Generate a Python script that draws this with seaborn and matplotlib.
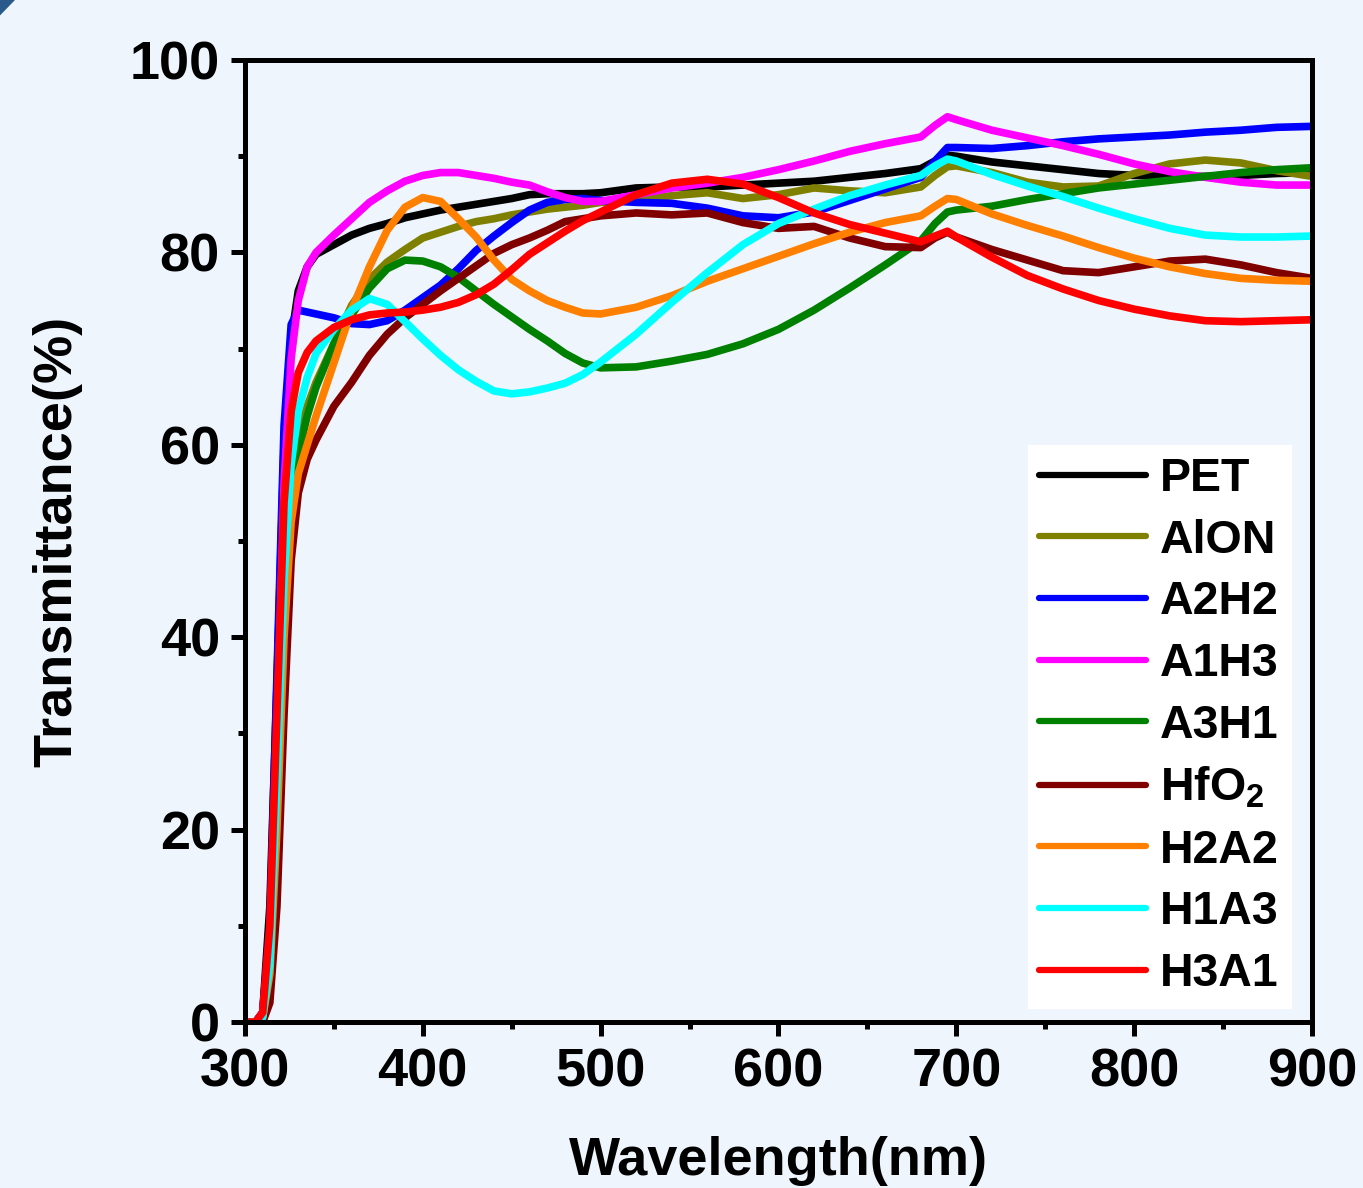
import numpy as np
import pandas as pd
import seaborn as sns
import matplotlib.pyplot as plt
from matplotlib.ticker import MultipleLocator
from matplotlib.patches import Polygon

# wavelength grid (nm)
wavelength = [300, 306, 310, 314, 318, 322, 326, 330, 335, 340, 350, 360, 370, 380, 390,
              400, 410, 420, 430, 440, 450, 460, 470, 480, 490, 500, 520, 540, 560, 580,
              600, 620, 640, 660, 680, 688, 695, 700, 720, 740, 760, 780, 800, 820, 840,
              860, 880, 900]

# transmittance (%) per sample
pet = [0, 0, 1, 12, 35, 60, 71, 76, 78.5, 79.8, 80.8, 81.8, 82.5, 83, 83.6,
       84, 84.4, 84.7, 85, 85.3, 85.6, 86, 86.1, 86.1, 86.1, 86.2, 86.7, 86.8, 86.8, 87,
       87.2, 87.4, 87.8, 88.2, 88.7, 89.5, 90.1, 90, 89.4, 89, 88.6, 88.2, 88, 87.9, 87.9,
       88, 88.2, 88.3]
alon = [0, 0, 0.5, 6, 22, 42, 55, 61, 64, 66.5, 70.5, 74.5, 77.2, 79, 80.3,
        81.5, 82.1, 82.7, 83.2, 83.5, 83.9, 84.2, 84.5, 84.7, 84.9, 85.2, 85.4, 85.9, 86.2, 85.6,
        86, 86.7, 86.4, 86.2, 86.8, 88, 88.9, 89, 88.3, 87.3, 86.8, 86.9, 88.2, 89.2, 89.6,
        89.3, 88.5, 87.9]
a2h2 = [0, 0, 1, 10, 36, 62, 72.5, 74, 73.8, 73.6, 73.2, 72.6, 72.5, 72.9, 74,
        75.3, 76.6, 78.3, 80.2, 81.7, 83.1, 84.4, 85.2, 85.5, 85.6, 85.4, 85.2, 85.1, 84.6, 83.8,
        83.6, 84.2, 85.4, 86.6, 87.8, 89.5, 90.9, 90.9, 90.8, 91.1, 91.5, 91.8, 92, 92.2, 92.5,
        92.7, 93, 93.1]
a1h3 = [0, 0, 1, 8, 30, 56, 69, 75, 78.5, 80, 81.8, 83.5, 85.2, 86.4, 87.4,
        88, 88.3, 88.3, 88, 87.7, 87.3, 87, 86.3, 85.7, 85.3, 85.3, 86, 86.7, 87.2, 87.8,
        88.6, 89.5, 90.5, 91.3, 92, 93.2, 94.1, 93.8, 92.7, 91.9, 91.1, 90.2, 89.2, 88.4, 87.8,
        87.3, 87, 87]
a3h1 = [0, 0, 0.5, 5, 20, 40, 53, 59, 63, 66, 70.5, 73.5, 76.3, 78.3, 79.2,
        79.1, 78.5, 77.4, 76, 74.6, 73.3, 72, 70.8, 69.5, 68.5, 68, 68.1, 68.7, 69.4, 70.5,
        72, 74, 76.3, 78.7, 81.2, 83, 84.2, 84.4, 84.8, 85.5, 86.1, 86.7, 87.1, 87.5, 87.9,
        88.3, 88.6, 88.8]
hfo2 = [0, 0, 0, 2, 12, 32, 48, 55, 58.5, 60.5, 64, 66.5, 69.3, 71.5, 73.2,
        74.6, 76, 77.3, 78.6, 79.9, 80.8, 81.5, 82.3, 83.2, 83.5, 83.8, 84.1, 83.9, 84.1, 83.1,
        82.5, 82.7, 81.5, 80.6, 80.5, 81.5, 82.1, 81.6, 80.3, 79.2, 78.1, 77.9, 78.5, 79.1, 79.3,
        78.7, 77.9, 77.3]
h2a2 = [0, 0, 0.5, 5, 20, 40, 52, 57, 60, 63, 68.5, 74, 78.5, 82.3, 84.7,
        85.7, 85.3, 83.5, 81.6, 79.2, 77.2, 76, 75, 74.3, 73.7, 73.6, 74.3, 75.5, 77, 78.3,
        79.6, 80.9, 82.1, 83.1, 83.8, 84.8, 85.6, 85.5, 84, 82.8, 81.7, 80.5, 79.4, 78.5, 77.8,
        77.3, 77.1, 77]
h1a3 = [0, 0, 0.5, 6, 25, 46, 58, 63.5, 67, 69.5, 72, 74, 75.2, 74.6, 72.8,
        71, 69.3, 67.8, 66.6, 65.6, 65.3, 65.5, 65.9, 66.4, 67.3, 68.6, 71.5, 74.8, 77.9, 80.8,
        83, 84.5, 85.9, 87, 88, 89, 89.7, 89.5, 88.1, 86.9, 85.8, 84.6, 83.5, 82.5, 81.8,
        81.6, 81.6, 81.7]
h3a1 = [0, 0, 1, 10, 32, 54, 63.5, 67.5, 69.6, 70.8, 72.2, 73, 73.5, 73.7, 73.8,
        74, 74.3, 74.8, 75.6, 76.7, 78.2, 79.8, 81, 82.2, 83.3, 84.2, 86, 87.2, 87.6, 87.1,
        85.7, 84.1, 82.9, 82, 81.1, 81.7, 82.2, 81.6, 79.5, 77.6, 76.2, 75, 74.1, 73.4, 72.9,
        72.8, 72.9, 73]

labels = ['PET', 'AlON', 'A2H2', 'A1H3', 'A3H1', r'HfO$_2$', 'H2A2', 'H1A3', 'H3A1']
series = [pet, alon, a2h2, a1h3, a3h1, hfo2, h2a2, h1a3, h3a1]
colors = ['#000000', '#808000', '#0000ff', '#ff00ff', '#008000', '#800000',
          '#ff8000', '#00ffff', '#ff0000']

df = pd.concat([pd.DataFrame({'wl': wavelength, 'T': s, 'sample': lab})
                for lab, s in zip(labels, series)], ignore_index=True)

sns.set_style('ticks')
plt.rcParams['font.family'] = ['Liberation Sans', 'DejaVu Sans']
plt.rcParams['font.weight'] = 'bold'
plt.rcParams['text.color'] = 'black'
plt.rcParams['axes.labelcolor'] = 'black'
plt.rcParams['xtick.color'] = 'black'
plt.rcParams['ytick.color'] = 'black'
plt.rcParams['mathtext.fontset'] = 'custom'
plt.rcParams['mathtext.rm'] = 'Liberation Sans:bold'
plt.rcParams['mathtext.it'] = 'Liberation Sans:bold'
plt.rcParams['mathtext.bf'] = 'Liberation Sans:bold'

bg = '#eff5fc'
fig = plt.figure(figsize=(13.63, 11.88), dpi=100, facecolor=bg)
ax = fig.add_axes([0.1797, 0.1397, 0.7829, 0.8098])
ax.set_facecolor(bg)

sns.lineplot(data=df, x='wl', y='T', hue='sample', hue_order=labels,
             palette=dict(zip(labels, colors)), linewidth=5.5, ax=ax, legend=False)

ax.set_xlim(300, 900)
ax.set_ylim(0, 100)
ax.xaxis.set_major_locator(MultipleLocator(100))
ax.xaxis.set_minor_locator(MultipleLocator(50))
ax.yaxis.set_major_locator(MultipleLocator(20))
ax.yaxis.set_minor_locator(MultipleLocator(10))
ax.tick_params(which='major', direction='out', length=10, width=3.6,
               labelsize=39, pad=8, top=False, right=False, colors='black')
ax.tick_params(which='minor', direction='out', length=5, width=3.6,
               top=False, right=False, colors='black')
for lab in ax.get_xticklabels() + ax.get_yticklabels():
    lab.set_fontweight('bold')
for sp in ax.spines.values():
    sp.set_linewidth(3.6)
    sp.set_color('black')

ax.set_xlabel('Wavelength(nm)', fontsize=39, fontweight='bold', labelpad=28, color='black')
ax.set_ylabel('Transmittance(%)', fontsize=39, fontweight='bold', labelpad=34, color='black')

handles = [plt.Line2D([], [], color=c, linewidth=4.5) for c in colors]
leg = ax.legend(handles, labels, loc='lower right', bbox_to_anchor=(0.98, 0.015),
                prop={'weight': 'bold', 'size': 33.5}, frameon=True,
                fancybox=False, handlelength=2.3, handletextpad=0.3,
                labelspacing=0.38, borderpad=0.25, borderaxespad=0)
leg.get_frame().set_facecolor('white')
leg.get_frame().set_edgecolor('white')
leg.get_frame().set_alpha(1)
for t in leg.get_texts():
    t.set_color('black')

# small dark corner in the top-left of the slide
fig.patches.append(Polygon([[0, 1], [0.011, 1], [0, 0.987]], closed=True,
                           transform=fig.transFigure, facecolor='#2a5a8c',
                           edgecolor='none'))

fig.savefig('out.png', dpi=100, facecolor=bg)
